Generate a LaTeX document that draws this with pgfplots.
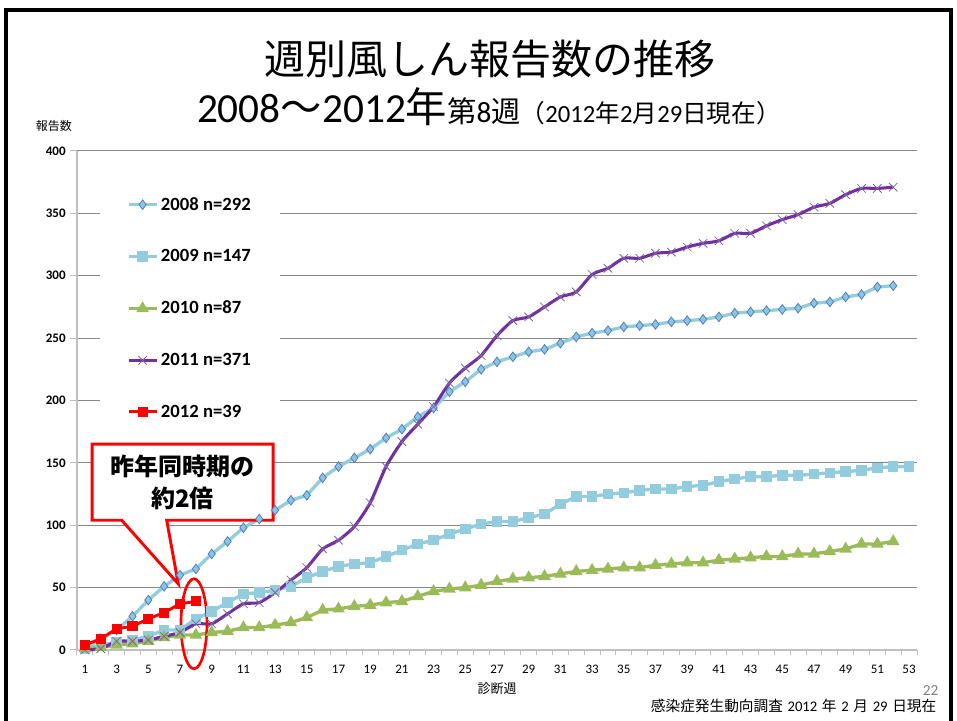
\documentclass[border=0pt]{standalone}
\usepackage{fontspec}
\usepackage{pgfplots}
\pgfplotsset{compat=1.18}
\setmainfont{Carlito}
\newfontfamily\cjk{Noto Sans CJK JP}
\newcommand{\fs}[1]{\fontsize{#1}{#1}\selectfont}
\newcommand{\gap}{\hspace{3.5pt}}
\definecolor{c08line}{HTML}{93CDDD}
\definecolor{c08fill}{HTML}{8CC4E2}
\definecolor{c08edge}{HTML}{4F81BD}
\definecolor{c09}{HTML}{93CDDD}
\definecolor{c10}{HTML}{9BBB59}
\definecolor{c11}{HTML}{7030A0}
\definecolor{c11m}{HTML}{8064A2}
\definecolor{c12}{HTML}{FF0000}
\definecolor{gridgray}{HTML}{878787}
\definecolor{axisgray}{HTML}{BFBFBF}
\begin{document}
\begin{tikzpicture}
\begin{axis}[
  scale only axis,
  width=630pt, height=374.25pt,
  xmin=0.5, xmax=53.5, ymin=0, ymax=400,
  axis lines*=left,
  axis line style={draw=axisgray, line width=0.9pt},
  ymajorgrids, grid style={draw=gridgray, line width=0.75pt},
  ytick={0,50,...,400},
  xtick={1,3,...,53},
  minor xtick={0.5,1.5,...,53.5},
  tick align=outside,
  major tick length=5pt, minor tick length=4pt,
  major x tick style={draw=none},
  minor x tick style={draw=axisgray, line width=0.75pt},
  y tick style={draw=axisgray, line width=0.75pt},
  /pgf/number format/assume math mode=true,
  yticklabel style={font=\bfseries\fs{9.75}},
  xticklabel style={font=\fs{9.75}, yshift=-3pt},
  clip=false,
  legend cell align=left,
  legend style={at={(0.0274,0.94)}, anchor=north west, draw=none, fill=white,
    inner xsep=20pt, inner ysep=10pt, row sep=24pt, font=\bfseries\fs{14}},
  legend image code/.code={\draw[mark repeat=2,mark phase=2] plot coordinates {(0pt,0pt) (10.5pt,0pt) (21pt,0pt)};},
]
\addplot[color=c08line, line width=2.5pt, mark=diamond*, mark size=3.6pt,
  mark options={solid, fill=c08fill, draw=c08edge, line width=0.6pt}] coordinates {
(1,1)(2,9)(3,16)(4,27)(5,40)(6,51)(7,60)(8,65)(9,77)(10,87)
(11,98)(12,105)(13,112)(14,120)(15,124)(16,138)(17,147)(18,154)(19,161)(20,170)
(21,177)(22,187)(23,194)(24,207)(25,215)(26,225)(27,231)(28,235)(29,239)(30,241)
(31,246)(32,251)(33,254)(34,256)(35,259)(36,260)(37,261)(38,263)(39,264)(40,265)
(41,267)(42,270)(43,271)(44,272)(45,273)(46,274)(47,278)(48,279)(49,283)(50,285)
(51,291)(52,292)};
\addlegendentry{2008 n=292}
\addplot[color=c09, line width=2.5pt, mark=square*, mark size=2.7pt,
  mark options={solid, fill=c09, draw=c09}] coordinates {
(1,1)(2,4)(3,6)(4,8)(5,11)(6,16)(7,16)(8,25)(9,31)(10,38)
(11,45)(12,46)(13,48)(14,51)(15,58)(16,63)(17,67)(18,69)(19,70)(20,75)
(21,80)(22,85)(23,88)(24,93)(25,97)(26,101)(27,103)(28,103)(29,106)(30,109)
(31,117)(32,123)(33,123)(34,125)(35,126)(36,128)(37,129)(38,129)(39,131)(40,132)
(41,135)(42,137)(43,139)(44,139)(45,140)(46,140)(47,141)(48,142)(49,143)(50,144)
(51,146)(52,147)(53,147)};
\addlegendentry{2009 n=147}
\addplot[color=c10, line width=2.5pt, mark=triangle*, mark size=3pt,
  mark options={solid, fill=c10, draw=c10}] coordinates {
(1,1)(2,2)(3,4)(4,5)(5,7)(6,10)(7,12)(8,12)(9,14)(10,15)
(11,18)(12,18)(13,20)(14,22)(15,26)(16,32)(17,33)(18,35)(19,36)(20,38)
(21,39)(22,43)(23,47)(24,49)(25,50)(26,52)(27,55)(28,57)(29,58)(30,59)
(31,61)(32,63)(33,64)(34,65)(35,66)(36,66)(37,68)(38,69)(39,70)(40,70)
(41,72)(42,73)(43,74)(44,75)(45,75)(46,77)(47,77)(48,79)(49,81)(50,85)
(51,85)(52,87)};
\addlegendentry{2010 n=87}
\addplot[color=c11, line width=2.3pt, smooth, tension=0.4, mark=x, mark size=4.5pt,
  mark options={solid, draw=c11m, line width=0.6pt}] coordinates {
(1,0)(2,1)(3,7)(4,7)(5,8)(6,11)(7,14)(8,21)(9,21)(10,29)
(11,37)(12,38)(13,46)(14,56)(15,66)(16,81)(17,88)(18,99)(19,118)(20,147)
(21,167)(22,181)(23,195)(24,214)(25,226)(26,236)(27,252)(28,264)(29,267)(30,275)
(31,283)(32,287)(33,301)(34,306)(35,314)(36,314)(37,318)(38,319)(39,323)(40,326)
(41,328)(42,334)(43,334)(44,340)(45,345)(46,349)(47,355)(48,358)(49,365)(50,370)
(51,370)(52,371)};
\addlegendentry{2011 n=371}
\addplot[color=c12, line width=2.2pt, mark=square*, mark size=2.7pt,
  mark options={solid, fill=c12, draw=c12}] coordinates {
(1,4)(2,9)(3,17)(4,19)(5,25)(6,30)(7,37)(8,39)};
\addlegendentry{2012 n=39}
\draw[c12, line width=2.2pt, fill=white] (axis cs:1.45,165) -- (axis cs:12.87,165) -- (axis cs:12.87,104) -- (axis cs:6.16,104) -- (axis cs:6.89,53) -- (axis cs:3.32,104) -- (axis cs:1.45,104) -- cycle;
\node[align=center, font=\cjk\bfseries\fontsize{18}{24}\selectfont] at (axis cs:7.16,134.5) {昨年同時期の\\約2倍};
\draw[c12, line width=2pt] (axis cs:7.88,21) ellipse [x radius=9.75pt, y radius=33.75pt];
\coordinate (P0) at (axis cs:-4.3583,521.04);
\end{axis}
\begin{scope}[shift={(P0)}, x=0.75pt, y=-0.75pt]
\draw[line width=2.6pt, black] (6,730) -- (6,10) -- (951,10) -- (951,730);
\node[font=\cjk\fs{30.75}] at (490,59) {週別風しん報告数の推移};
\node[anchor=base] at (489,123) {\fs{31}2008{\cjk ～}2012{\cjk 年}{\cjk\fs{22}第}{\fs{22}8}{\cjk\fs{22}週}{\fs{18.5}{\cjk （}2012{\cjk 年}2{\cjk 月}29{\cjk 日現在）}}};
\node[font=\cjk\fs{9}] at (54,126) {報告数};
\node[font=\cjk\fs{9.75}] at (497,689) {診断週};
\node[anchor=base east, font=\fs{11.5}, text=gray] at (943,696) {22};
\node[anchor=base east, font=\fs{11}] at (941,712) {{\cjk 感染症発生動向調査}\gap 2012\gap{\cjk 年}\gap 2\gap{\cjk 月}\gap 29\gap{\cjk 日現在}};
\pgfresetboundingbox
\path[use as bounding box] (0,0) rectangle (957,721);
\end{scope}
\end{tikzpicture}
\end{document}
